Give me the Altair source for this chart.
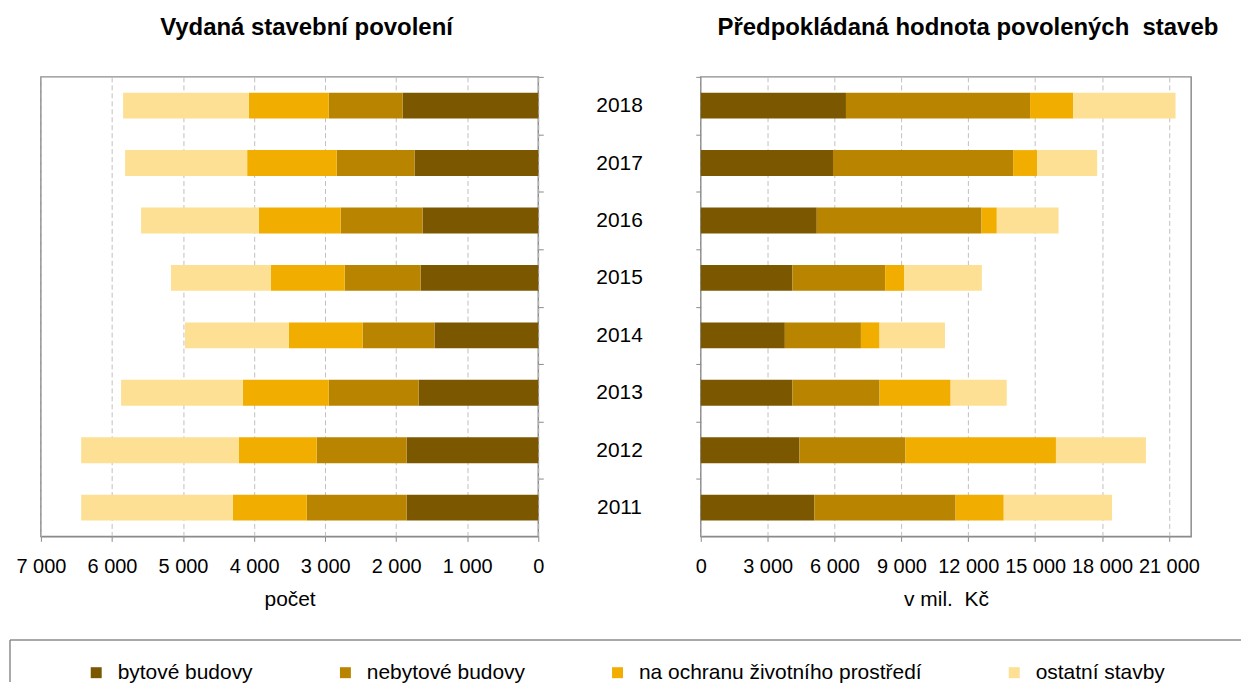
import altair as alt
import pandas as pd

years = ['2011', '2012', '2013', '2014', '2015', '2016', '2017', '2018']
categories = ['bytové budovy', 'nebytové budovy', 'na ochranu životního prostředí', 'ostatní stavby']
colors = ['#7b5800', '#b98400', '#f1ad00', '#fde093']

# Vydaná stavební povolení (počet)
count_byt = [1854, 1854, 1685, 1461, 1657, 1629, 1742, 1910]
count_nebyt = [1404, 1264, 1264, 1011, 1068, 1152, 1095, 1039]
count_ochr = [1040, 1095, 1208, 1039, 1039, 1152, 1260, 1124]
count_ost = [2135, 2220, 1714, 1461, 1405, 1657, 1718, 1770]

# Předpokládaná hodnota povolených staveb (v mil. Kč)
value_byt = [5097, 4427, 4114, 3772, 4114, 5204, 5933, 6514]
value_nebyt = [6335, 4756, 3907, 3413, 4158, 7391, 8079, 8258]
value_ochr = [2160, 6751, 3188, 836, 849, 686, 1087, 1936]
value_ost = [4860, 4036, 2517, 2934, 3488, 2771, 2683, 4591]

left_ticks = [0, 1000, 2000, 3000, 4000, 5000, 6000, 7000]
right_ticks = [0, 3000, 6000, 9000, 12000, 15000, 18000, 21000]


def long_df(series):
    rows = []
    for ci, (cat, vals) in enumerate(zip(categories, series)):
        for y, v in zip(years, vals):
            rows.append({'year': y, 'category': cat, 'ord': ci, 'value': v})
    return pd.DataFrame(rows)


df_count = long_df([count_byt, count_nebyt, count_ochr, count_ost])
df_value = long_df([value_byt, value_nebyt, value_ochr, value_ost])

FONT = 'Liberation Sans'
GRID = '#c0c0c0'
FRAME = '#8c8c8c'
label_expr = "datum.value >= 1000 ? floor(datum.value / 1000) + ' 000' : '' + datum.value"

PLOT_H = 461
HALF_STEP = PLOT_H / len(years) / 2

yscale = alt.Scale(paddingInner=0.55, paddingOuter=0.275)
color = alt.Color(
    'category:N',
    scale=alt.Scale(domain=categories, range=colors),
    legend=alt.Legend(
        orient='none', legendX=45, legendY=587, direction='horizontal', title=None,
        symbolType='square', symbolSize=121, symbolStrokeWidth=0,
        labelFontSize=21, labelFont=FONT, labelColor='black', labelOffset=11,
        columnPadding=82, labelLimit=400, padding=0,
    ),
)

left_bars = alt.Chart(df_count).mark_bar().encode(
    y=alt.Y('year:N', sort=years[::-1], scale=yscale,
            axis=alt.Axis(orient='right', labels=False, title=None,
                          tickOffset=-HALF_STEP,
                          tickSize=5, tickColor=FRAME, domain=False, grid=False)),
    x=alt.X('value:Q', stack='zero',
            scale=alt.Scale(domain=[0, 7000], reverse=True, nice=False),
            axis=alt.Axis(values=left_ticks, labelExpr=label_expr, title='počet',
                          labelOverlap=False, labelFlush=False,
                          grid=True, gridDash=[5, 3], gridColor=GRID, tickSize=5,
                          tickColor=FRAME, domainColor=FRAME, labelPadding=15,
                          titlePadding=12)),
    color=color,
    order=alt.Order('ord:Q'),
)

box = pd.DataFrame({'k': [0]})
box_top = alt.Chart(box).mark_rule(color=FRAME, strokeWidth=1.5).encode(
    x=alt.value(-31), x2=alt.value(1204), y=alt.value(565))
box_left = alt.Chart(box).mark_rule(color=FRAME, strokeWidth=1.5).encode(
    x=alt.value(-31), y=alt.value(565), y2=alt.value(607))

left = alt.layer(left_bars, box_top, box_left).properties(
    width=499, height=PLOT_H,
    title=alt.TitleParams('Vydaná stavební povolení', fontSize=24, fontWeight='bold',
                          font=FONT, anchor='middle', frame='group', dx=17, offset=37),
)

right = alt.Chart(df_value).mark_bar().encode(
    y=alt.Y('year:N', sort=years[::-1], scale=yscale,
            axis=alt.Axis(orient='left', title=None, labelAlign='center', labelPadding=77,
                          labelFontSize=21, tickOffset=-HALF_STEP, labelOffset=HALF_STEP,
                          tickSize=5, tickColor=FRAME,
                          domain=False, grid=False)),
    x=alt.X('value:Q', stack='zero',
            scale=alt.Scale(domain=[0, 22000], nice=False),
            axis=alt.Axis(values=right_ticks, labelExpr=label_expr, title='v mil.\u00a0 Kč',
                          labelOverlap=False, labelFlush=False,
                          grid=True, gridDash=[5, 3], gridColor=GRID, tickSize=5,
                          tickColor=FRAME, domainColor=FRAME, labelPadding=15,
                          titlePadding=12)),
    color=color,
    order=alt.Order('ord:Q'),
).properties(
    width=492, height=PLOT_H,
    title=alt.TitleParams('Předpokládaná hodnota povolených\u00a0 staveb', fontSize=24,
                          fontWeight='bold', font=FONT, anchor='middle', frame='group',
                          dx=22, offset=37),
)

chart = alt.hconcat(left, right, spacing=163, bounds='flush').properties(
    padding={'left': 0, 'top': 5, 'right': 0, 'bottom': 0}
).configure_view(
    stroke=FRAME, strokeWidth=1.5
).configure_axis(
    labelFont=FONT, titleFont=FONT, labelFontSize=20, titleFontSize=21,
    titleFontWeight='normal', labelColor='black', titleColor='black',
).configure_title(color='black')

chart.save('out.html', embed_options={'renderer': 'svg', 'actions': False})
